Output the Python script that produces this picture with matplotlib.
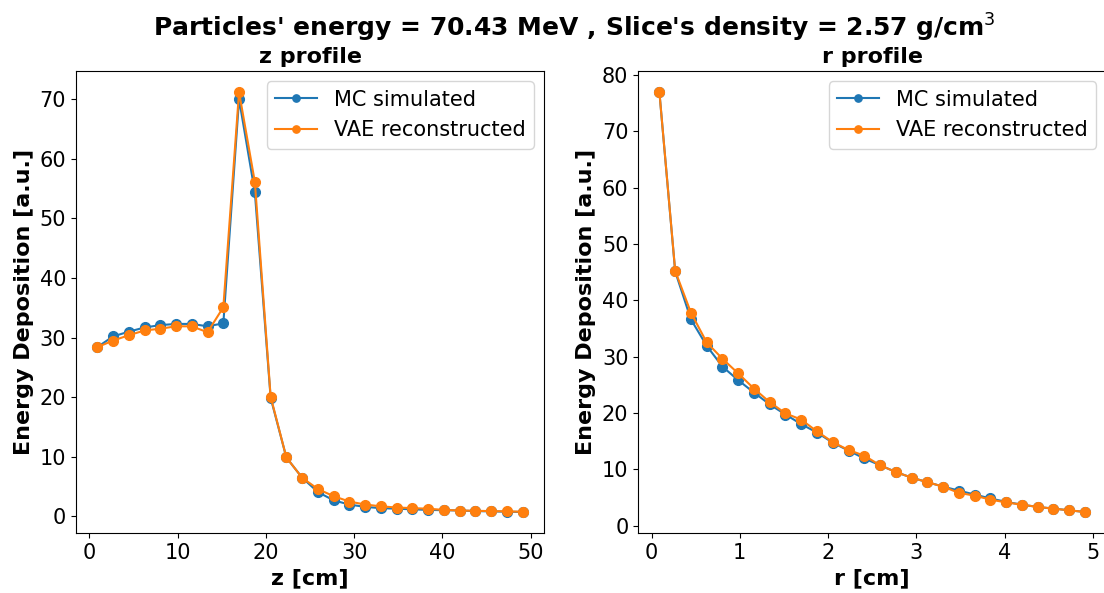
import matplotlib
matplotlib.use("Agg")
from matplotlib import pyplot as plt

# bin centres
z_cm = [0.89, 2.68, 4.46, 6.25, 8.04, 9.82, 11.61, 13.39, 15.18, 16.96,
        18.75, 20.54, 22.32, 24.11, 25.89, 27.68, 29.46, 31.25, 33.04, 34.82,
        36.61, 38.39, 40.18, 41.96, 43.75, 45.54, 47.32, 49.11]
r_cm = [0.089, 0.268, 0.446, 0.625, 0.804, 0.982, 1.161, 1.339, 1.518, 1.696,
        1.875, 2.054, 2.232, 2.411, 2.589, 2.768, 2.946, 3.125, 3.304, 3.482,
        3.661, 3.839, 4.018, 4.196, 4.375, 4.554, 4.732, 4.911]

z_mc = [28.4, 30.2, 31.0, 31.7, 32.1, 32.3, 32.3, 31.9, 32.4, 70.0,
        54.4, 19.9, 9.9, 6.5, 4.1, 2.7, 2.0, 1.6, 1.4, 1.3,
        1.2, 1.1, 1.05, 1.0, 0.9, 0.85, 0.8, 0.75]
z_vae = [28.4, 29.5, 30.4, 31.2, 31.5, 31.9, 31.9, 30.9, 35.1, 71.2,
         56.1, 20.1, 9.9, 6.5, 4.6, 3.4, 2.5, 2.0, 1.7, 1.5,
         1.4, 1.3, 1.1, 1.0, 0.95, 0.9, 0.85, 0.8]

r_mc = [76.95, 45.1, 36.6, 31.9, 28.2, 25.8, 23.6, 21.5, 19.7, 18.0,
        16.5, 14.7, 13.3, 11.9, 10.7, 9.5, 8.5, 7.7, 6.9, 6.2,
        5.5, 4.8, 4.2, 3.7, 3.3, 3.0, 2.7, 2.4]
r_vae = [76.95, 45.2, 37.8, 32.5, 29.6, 27.0, 24.3, 21.9, 19.9, 18.8,
         16.7, 14.8, 13.4, 12.4, 10.7, 9.5, 8.5, 7.7, 6.9, 5.8,
         5.3, 4.6, 4.1, 3.7, 3.3, 3.0, 2.7, 2.4]

plt.rcParams['font.size'] = 15

fig = plt.figure(figsize=(11.04, 5.93), dpi=100)
ax1 = fig.add_axes([0.0688, 0.1012, 0.424, 0.779])
ax2 = fig.add_axes([0.578, 0.1012, 0.424, 0.779])

fig.suptitle("Particles' energy = 70.43 MeV , Slice's density = 2.57 g/cm$^3$",
             fontsize=18, fontweight='bold', x=0.52, y=0.98)


def draw(ax, x, mc, vae, title, xlabel):
    ax.plot(x, mc, marker='o', ms=7, label="MC simulated")
    ax.plot(x, vae, marker='o', ms=7, label="VAE reconstructed")
    ax.set_title(title, fontweight='bold', fontsize=16, pad=6)
    ax.set_xlabel(xlabel, fontweight='bold', fontsize=16)
    ax.set_ylabel("Energy Deposition [a.u.]", fontweight='bold', fontsize=16)
    ax.legend(loc='upper right', markerscale=0.75)


draw(ax1, z_cm, z_mc, z_vae, "z profile", "z [cm]")
draw(ax2, r_cm, r_mc, r_vae, "r profile", "r [cm]")

plt.savefig("out.png")
